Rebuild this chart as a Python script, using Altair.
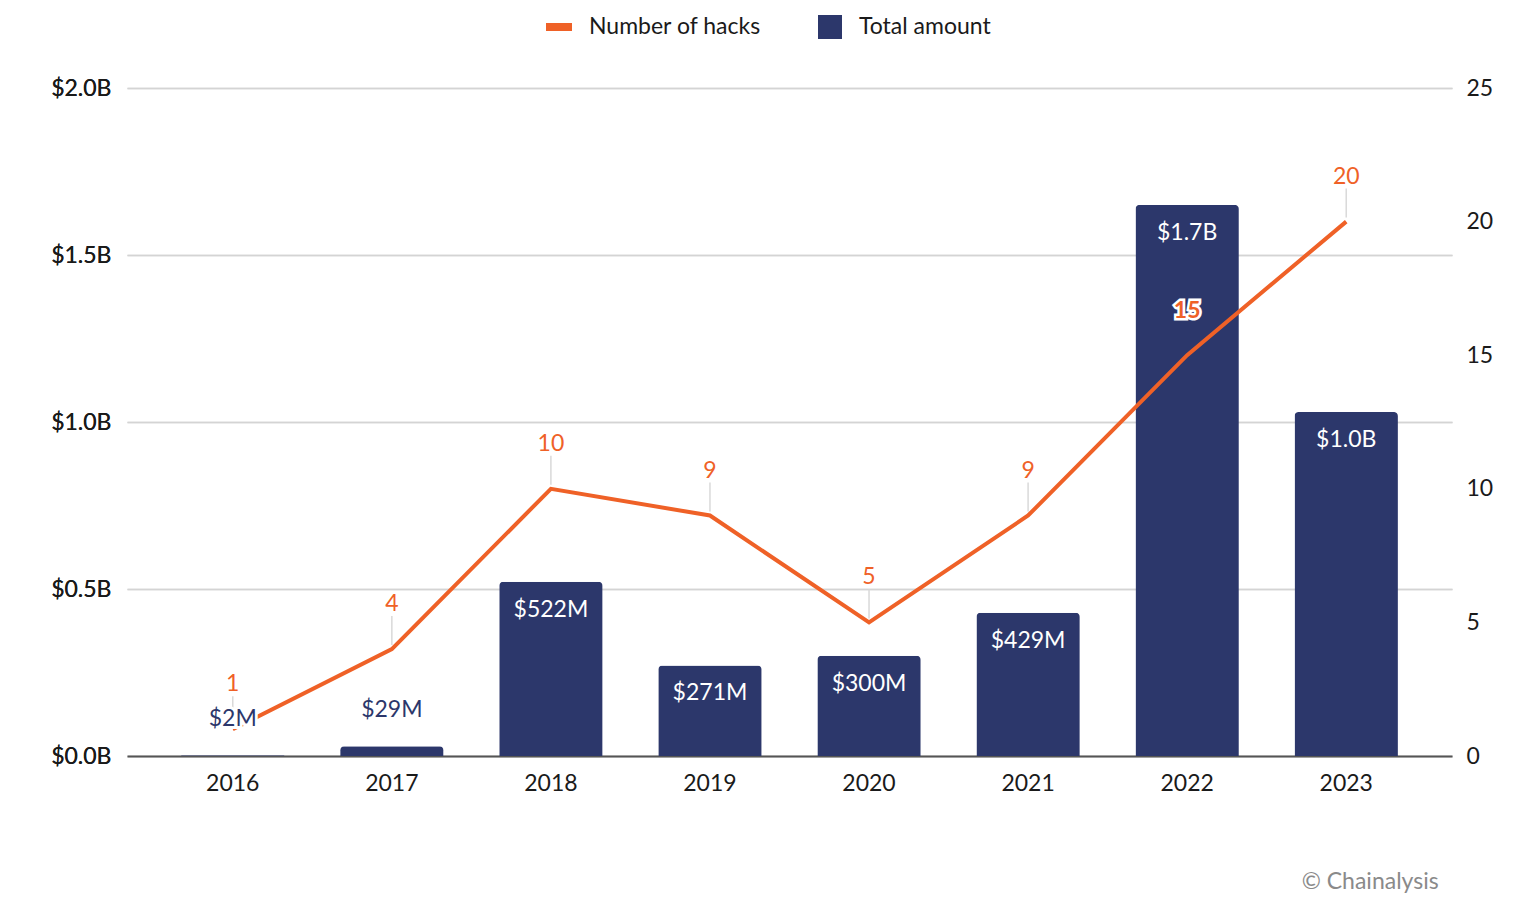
import altair as alt
import pandas as pd

years = ["2016", "2017", "2018", "2019", "2020", "2021", "2022", "2023"]
amount_musd = [2, 29, 522, 271, 300, 429, 1650, 1030]
amount_labels = ["$2M", "$29M", "$522M", "$271M", "$300M", "$429M", "$1.7B", "$1.0B"]
hacks = [1, 4, 10, 9, 5, 9, 15, 20]

df = pd.DataFrame({
    "year": years,
    "amount": amount_musd,
    "amount_label": amount_labels,
    "hacks": hacks,
})
df["big"] = df["amount"] >= 100
df["in_bar"] = df["year"] == "2022"
df["series_bar"] = "Total amount"
df["series_line"] = "Number of hacks"

NAVY = "#2c376b"
ORANGE = "#ef6127"
FONT = "Lato"
FS = 23

base = alt.Chart(df)

x = alt.X(
    "year:N", title=None, sort=years,
    scale=alt.Scale(paddingInner=0.35, paddingOuter=0.34),
    axis=alt.Axis(labelAngle=0, ticks=False, domainColor="#555555", domainWidth=2,
                  labelPadding=16, labelFontSize=FS, labelColor="#1a1a1a", grid=False),
)

y_amt = alt.Y(
    "amount:Q", title=None,
    scale=alt.Scale(domain=[0, 2000]),
    axis=alt.Axis(values=[0, 500, 1000, 1500, 2000],
                  labelExpr="'$' + format(datum.value / 1000, '.1f') + 'B'",
                  grid=True, gridColor="#d4d4d4", gridWidth=1.5, domain=False, ticks=False,
                  labelPadding=16, labelFontSize=FS, labelColor="#1a1a1a"),
)

y_h = alt.Y(
    "hacks:Q", title=None,
    scale=alt.Scale(domain=[0, 25]),
    axis=alt.Axis(orient="right", values=[0, 5, 10, 15, 20, 25], grid=False, domain=False,
                  ticks=False, labelPadding=14, labelFontSize=FS, labelColor="#1a1a1a"),
)

bars = base.mark_bar(cornerRadiusTopLeft=4, cornerRadiusTopRight=4).encode(
    x=x,
    y=y_amt,
    fill=alt.Fill("series_bar:N", title=None,
                  scale=alt.Scale(domain=["Total amount"], range=[NAVY]),
                  legend=alt.Legend(orient="none", legendX=690, legendY=-74,
                                    symbolType="square", symbolSize=576,
                                    labelFontSize=FS, labelColor="#1a1a1a", labelFont=FONT,
                                    labelOffset=16, labelLimit=400, symbolOpacity=1)),
)

bar_lab_big = base.transform_filter("datum.big").mark_text(
    color="white", fontSize=FS, font=FONT, dy=35, baseline="alphabetic"
).encode(x=x, y=y_amt, text="amount_label:N")

bar_lab_small_halo = base.transform_filter("!datum.big").mark_text(
    color="white", stroke="white", strokeWidth=6, fontSize=FS, font=FONT, dy=-29, baseline="alphabetic"
).encode(x=x, y=y_amt, text="amount_label:N")

bar_lab_small = base.transform_filter("!datum.big").mark_text(
    color=NAVY, fontSize=FS, font=FONT, dy=-29, baseline="alphabetic"
).encode(x=x, y=y_amt, text="amount_label:N")

rules = base.transform_filter("!datum.in_bar").mark_rule(
    color="#d9d9d9", strokeWidth=1.5, yOffset=-4, y2Offset=-33
).encode(x=x, y=y_h, y2="hacks:Q")

line = base.mark_line(strokeWidth=4).encode(
    x=x,
    y=y_h,
    stroke=alt.Stroke("series_line:N", title=None,
                      scale=alt.Scale(domain=["Number of hacks"], range=[ORANGE]),
                      legend=alt.Legend(orient="none", legendX=415, legendY=-78,
                                        symbolType="stroke", symbolSize=676,
                                        symbolStrokeWidth=8, labelFontSize=FS,
                                        labelColor="#1a1a1a", labelFont=FONT,
                                        labelOffset=13, labelLimit=400)),
)

line_lab = base.transform_filter("!datum.in_bar").mark_text(
    color=ORANGE, fontSize=FS, font=FONT, dy=-38, baseline="alphabetic"
).encode(x=x, y=y_h, text="hacks:Q")

line_lab_in_halo = base.transform_filter("datum.in_bar").mark_text(
    color="white", stroke="white", strokeWidth=5, fontSize=FS, font=FONT, fontWeight="bold",
    dy=-37, baseline="alphabetic"
).encode(x=x, y=y_h, text="hacks:Q")

line_lab_in = base.transform_filter("datum.in_bar").mark_text(
    color=ORANGE, fontSize=FS, font=FONT, fontWeight="bold", dy=-37, baseline="alphabetic"
).encode(x=x, y=y_h, text="hacks:Q")

layer_amt = alt.layer(bars, bar_lab_big)
layer_h = alt.layer(rules, line, line_lab, line_lab_in_halo, line_lab_in)
layer_small = alt.layer(bar_lab_small_halo, bar_lab_small)

chart = alt.layer(layer_amt, layer_h, layer_small).resolve_scale(
    y="independent", fill="independent", stroke="independent"
).properties(
    width=1325,
    height=668,
    autosize=alt.AutoSizeParams(type="none"),
    padding={"left": 119, "top": 80, "right": 60, "bottom": 140},
    title=alt.Title("© Chainalysis", orient="bottom", anchor="end", fontSize=FS,
                    font=FONT, fontWeight="normal", color="#8a8a8a", offset=76, dx=-54),
).configure(font=FONT).configure_view(stroke=None)

chart.save("out.html", embed_options={"renderer": "svg", "actions": False})
